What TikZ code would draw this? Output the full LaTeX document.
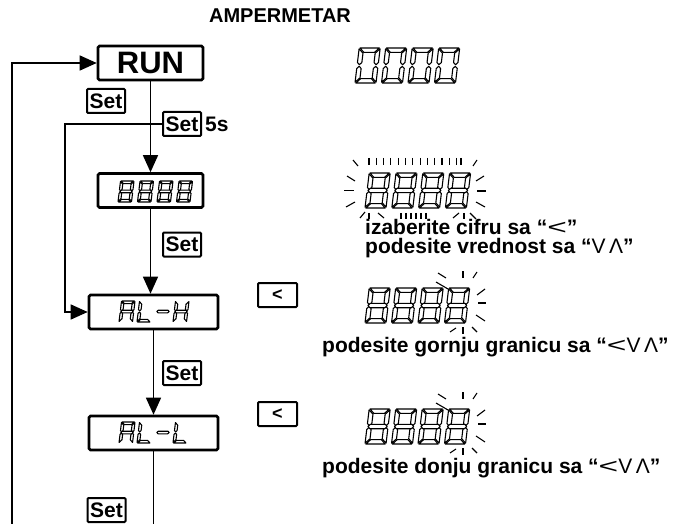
\documentclass[tikz,border=0pt]{standalone}
\usepackage{fontspec}
\setmainfont{Liberation Sans}
\usetikzlibrary{arrows.meta}
\newcommand\segset[4]{\def\sW{#1}\def\sH{#2}\def\st{#3}\def\sg{#4}}
\newcommand\ssegA{\filldraw[seg] (\sg,\sH) -- (\sW-\sg,\sH) -- (\sW-\sg-\st,\sH-\st) -- (\sg+\st,\sH-\st) -- cycle;}
\newcommand\ssegD{\filldraw[seg] (\sg,0) -- (\sW-\sg,0) -- (\sW-\sg-\st,\st) -- (\sg+\st,\st) -- cycle;}
\newcommand\ssegF{\filldraw[seg] (0,\sH-\sg) -- (\st,\sH-\sg-\st) -- (\st,\sH/2+\sg+\st/2) -- (\st/2,\sH/2+\sg) -- (0,\sH/2+\sg+\st/2) -- cycle;}
\newcommand\ssegE{\filldraw[seg] (0,\sg) -- (\st,\sg+\st) -- (\st,\sH/2-\sg-\st/2) -- (\st/2,\sH/2-\sg) -- (0,\sH/2-\sg-\st/2) -- cycle;}
\newcommand\ssegB{\filldraw[seg] (\sW,\sH-\sg) -- (\sW-\st,\sH-\sg-\st) -- (\sW-\st,\sH/2+\sg+\st/2) -- (\sW-\st/2,\sH/2+\sg) -- (\sW,\sH/2+\sg+\st/2) -- cycle;}
\newcommand\ssegC{\filldraw[seg] (\sW,\sg) -- (\sW-\st,\sg+\st) -- (\sW-\st,\sH/2-\sg-\st/2) -- (\sW-\st/2,\sH/2-\sg) -- (\sW,\sH/2-\sg-\st/2) -- cycle;}
\newcommand\ssegG{\filldraw[seg] (\sg,\sH/2) -- (\sg+\st/2,\sH/2+\st/2) -- (\sW-\sg-\st/2,\sH/2+\st/2) -- (\sW-\sg,\sH/2) -- (\sW-\sg-\st/2,\sH/2-\st/2) -- (\sg+\st/2,\sH/2-\st/2) -- cycle;}
\newcommand\sdigit[3]{\begin{scope}[shift={(#1,#2)},x=1pt,y=1pt,xslant=0.12]\foreach \q in {#3}{\csname sseg\q\endcsname}\end{scope}}
\newcommand\lsym[1]{{\mdseries\fontsize{21}{22}\selectfont #1}}
\begin{document}
\begin{tikzpicture}[x=1pt,y=-1pt,
  conn/.style={line width=1.4pt,-{Triangle[length=17pt,width=15pt]}},
  plain/.style={line width=1.4pt},
  seg/.style={draw=black,fill=white,line width=1.1pt,line join=round},
  ray/.style={line width=1.1pt},
  modebox/.style={draw,line width=2.6pt,rounded corners=1.5pt,minimum width=105pt,minimum height=34pt,inner sep=0pt,fill=white},
  widebox/.style={modebox,minimum width=129pt},
  setkey/.style={draw,line width=2pt,rounded corners=1pt,minimum width=38pt,minimum height=24pt,inner sep=0pt,fill=white,font=\fontsize{21}{22}\selectfont\bfseries},
  leftkey/.style={draw,line width=2pt,rounded corners=1pt,minimum width=39pt,minimum height=24pt,inner sep=0pt,fill=white,font=\fontsize{18}{20}\selectfont\bfseries},
  txt/.style={anchor=base west,inner sep=0pt,font=\fontsize{21}{22}\selectfont\bfseries}]
\useasboundingbox (0,0) rectangle (686,524);
% nodes
\node[font=\fontsize{20}{22}\selectfont\bfseries] (title) at (280,16) {AMPERMETAR};
\node[modebox,font=\fontsize{31}{32}\selectfont\bfseries] (run) at (150.5,63) {RUN};
\node[modebox] (disp8) at (150.5,190.5) {};
\node[widebox] (alh) at (153.5,312) {};
\node[widebox] (all) at (153.5,433) {};
\node[setkey] (set1) at (106,101) {Set};
\node[setkey] (set2) at (182,124) {Set};
\node[txt] (fives) at (205,131.5) {5s};
\node[setkey] (set3) at (182,244.5) {Set};
\node[setkey] (set4) at (182,373) {Set};
\node[setkey] (set5) at (106.5,510) {Set};
\node[leftkey] (lk1) at (277.5,295) {<};
\node[leftkey] (lk2) at (277.5,414) {<};
\coordinate (lp) at (65,124);
\coordinate (lb) at (12,524);
\coordinate (bot) at (0,524);
% connectors
\draw[conn] (run.south) -- (disp8.north);
\draw[conn] (disp8.south) -- (disp8.south |- alh.north);
\draw[conn] (alh.south) -- (all.north);
\draw[plain] (all.south) -- (all.south |- bot);
\draw[conn] (set2.west) -- (lp) |- (alh.west);
\draw[conn] (lb) |- (run.west);
% small displays in boxes
\segset{13.5}{21}{2.6}{0.6}
\foreach \i in {0,...,3} {\sdigit{118+19.5*\i}{202}{A,B,C,D,E,F,G}}
\sdigit{119}{322}{A,B,C,E,F,G}
\sdigit{137}{322}{D,E,F}
\sdigit{155}{322}{G}
\sdigit{173}{322}{B,C,E,F,G}
\sdigit{119}{443}{A,B,C,E,F,G}
\sdigit{137}{443}{D,E,F}
\sdigit{155}{443}{G}
\sdigit{173}{443}{D,E,F}
% big displays
\segset{21}{35}{4.4}{0.8}
\foreach \i in {0,...,3} {\sdigit{355+26.5*\i}{83}{A,B,C,D,E,F}}
\foreach \i in {0,...,3} {\sdigit{365+26.8*\i}{208}{A,B,C,D,E,F,G}}
\foreach \i in {0,...,3} {\sdigit{365+26.5*\i}{323}{A,B,C,D,E,F,G}}
\foreach \i in {0,...,3} {\sdigit{365+26.5*\i}{444}{A,B,C,D,E,F,G}}
% rays around the first flashing display
\foreach \i in {0,...,12} {\draw[ray] (369+7.3*\i,158) -- ++(0,7);}
\draw[ray] (461,158) -- ++(0,7);
\draw[ray] (353,160) -- (358,166);
\draw[ray] (473,166) -- (477,160);
\draw[ray] (347,176) -- (355,181);
\draw[ray] (344,190.5) -- (354,190.5);
\draw[ray] (346,207) -- (355,202);
\draw[ray] (360,218) -- (365,212);
\draw[ray] (476,181) -- (484,176);
\draw[ray] (477,191) -- (486,191);
\draw[ray] (476,202) -- (485,207);
\draw[ray] (470,213) -- (476,219);
\draw[ray] (369,213) -- ++(0,6);
\draw[ray] (378,213) -- (384,218);
\foreach \i in {0,...,5} {\draw[ray] (401+5*\i,213) -- ++(0,6);}
\draw[ray] (453,218) -- (459,213);
\draw[ray] (464,213) -- ++(0,6);
% rays around last digit of the two limit displays
\foreach \dy in {0,121} {
  \begin{scope}[yshift=-\dy pt]
  \draw[ray] (438,273) -- (446,278);
  \draw[ray] (463,271) -- (463,278);
  \draw[ray] (473,278) -- (477,272);
  \draw[ray] (436,282) -- (448,289);
  \draw[ray] (477,295) -- (485,289);
  \draw[ray] (478,303) -- (486,303);
  \draw[ray] (476,315) -- (485,321);
  \draw[ray] (450,332) -- (456,328);
  \draw[ray] (463,327) -- (463,334);
  \draw[ray] (472,327) -- (477,332);
  \end{scope}}
% texts
\node[txt] (t1) at (365,234) {izaberite cifru sa “\lsym{\scalebox{1.6}[1]{<}}”};
\node[txt] (t2) at (365,253) {podesite vrednost sa “\lsym{V\,Λ}”};
\node[txt] (t3) at (322,352) {podesite gornju granicu sa “\lsym{\scalebox{1.6}[1]{<}V\,Λ}”};
\node[txt] (t4) at (322,473) {podesite donju granicu sa “\lsym{\scalebox{1.6}[1]{<}V\,Λ}”};
\end{tikzpicture}
\end{document}
